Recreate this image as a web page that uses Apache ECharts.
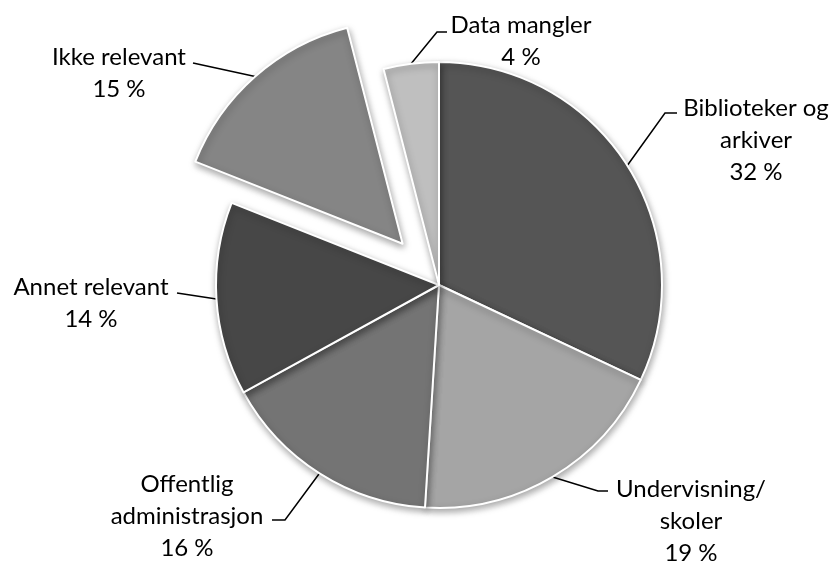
<!DOCTYPE html>
<html>
<head>
<meta charset="utf-8">
<script src="https://cdn.jsdelivr.net/npm/echarts@6/dist/echarts.min.js"></script>
<style>
  html, body { margin: 0; padding: 0; background: #fff; }
  #chart { width: 834px; height: 561px; }
</style>
</head>
<body>
<div id="chart"></div>
<script>
// kategorier og andeler (prosent)
const categories = ['Biblioteker og\narkiver', 'Undervisning/\nskoler', 'Offentlig\nadministrasjon', 'Annet relevant', 'Ikke relevant', 'Data mangler']
const shares = [32, 19, 16, 14, 15, 4]
const colors = ['#555555', '#a5a5a5', '#747474', '#474747', '#858585', '#bfbfbf']
const explodedIndex = 4

// etikettenes midtpunkt og knekkpunkt/endepunkt for linjene
const labelPos = [[756, 140], [691, 521], [187, 516], [91, 303], [119, 73], [521, 41]]
const lineBend = [[665, 113], [598, 491], [285, 520], [177, 293], [193, 63], [437, 32]]
const lineEnd = [[677, 113], [608, 491], [272, 520], [177, 293], [193, 63], [447, 32]]

const pieCenter = [439, 285]
const pieRadius = 223
const explodeOffset = 55

// forskyvning av den utskilte sektoren langs midtvinkelen
const total = shares.reduce((a, b) => a + b, 0)
const before = shares.slice(0, explodedIndex).reduce((a, b) => a + b, 0)
const midAngle = (before + shares[explodedIndex] / 2) / total * 2 * Math.PI
const explodedCenter = [
  pieCenter[0] + explodeOffset * Math.sin(midAngle),
  pieCenter[1] - explodeOffset * Math.cos(midAngle)
]

const baseItemStyle = {
  borderColor: '#fff',
  borderWidth: 2,
  shadowBlur: 7,
  shadowOffsetX: 1,
  shadowOffsetY: 3,
  shadowColor: 'rgba(0,0,0,0.35)'
}

const hidden = {
  itemStyle: { color: 'transparent', borderWidth: 0, shadowBlur: 0, shadowColor: 'transparent' },
  label: { show: false },
  labelLine: { show: false }
}

const labelLayout = params => {
  if (!params.labelLinePoints) return {}
  const i = params.dataIndex
  return {
    x: labelPos[i][0],
    y: labelPos[i][1],
    align: 'center',
    verticalAlign: 'middle',
    labelLinePoints: [params.labelLinePoints[0], lineBend[i], lineEnd[i]]
  }
}

function pieSeries(center, visible) {
  return {
    type: 'pie',
    center: center,
    radius: pieRadius,
    startAngle: 90,
    clockwise: true,
    silent: true,
    itemStyle: baseItemStyle,
    label: {
      show: true,
      formatter: p => p.name + '\n' + p.value + ' %',
      fontSize: 24,
      lineHeight: 32,
      color: '#000',
      align: 'center'
    },
    labelLine: {
      show: true,
      length: 20,
      length2: 10,
      lineStyle: { color: '#000', width: 1.5 }
    },
    labelLayout: labelLayout,
    emphasis: { disabled: true },
    data: categories.map((name, i) => Object.assign(
      { name: name, value: shares[i], itemStyle: { color: colors[i] } },
      visible(i) ? {} : hidden
    ))
  }
}

const chart = echarts.init(document.getElementById('chart'))
chart.setOption({
  animation: false,
  textStyle: { fontFamily: 'Lato' },
  series: [
    pieSeries(pieCenter, i => i !== explodedIndex),
    pieSeries(explodedCenter, i => i === explodedIndex)
  ]
})
</script>
</body>
</html>
